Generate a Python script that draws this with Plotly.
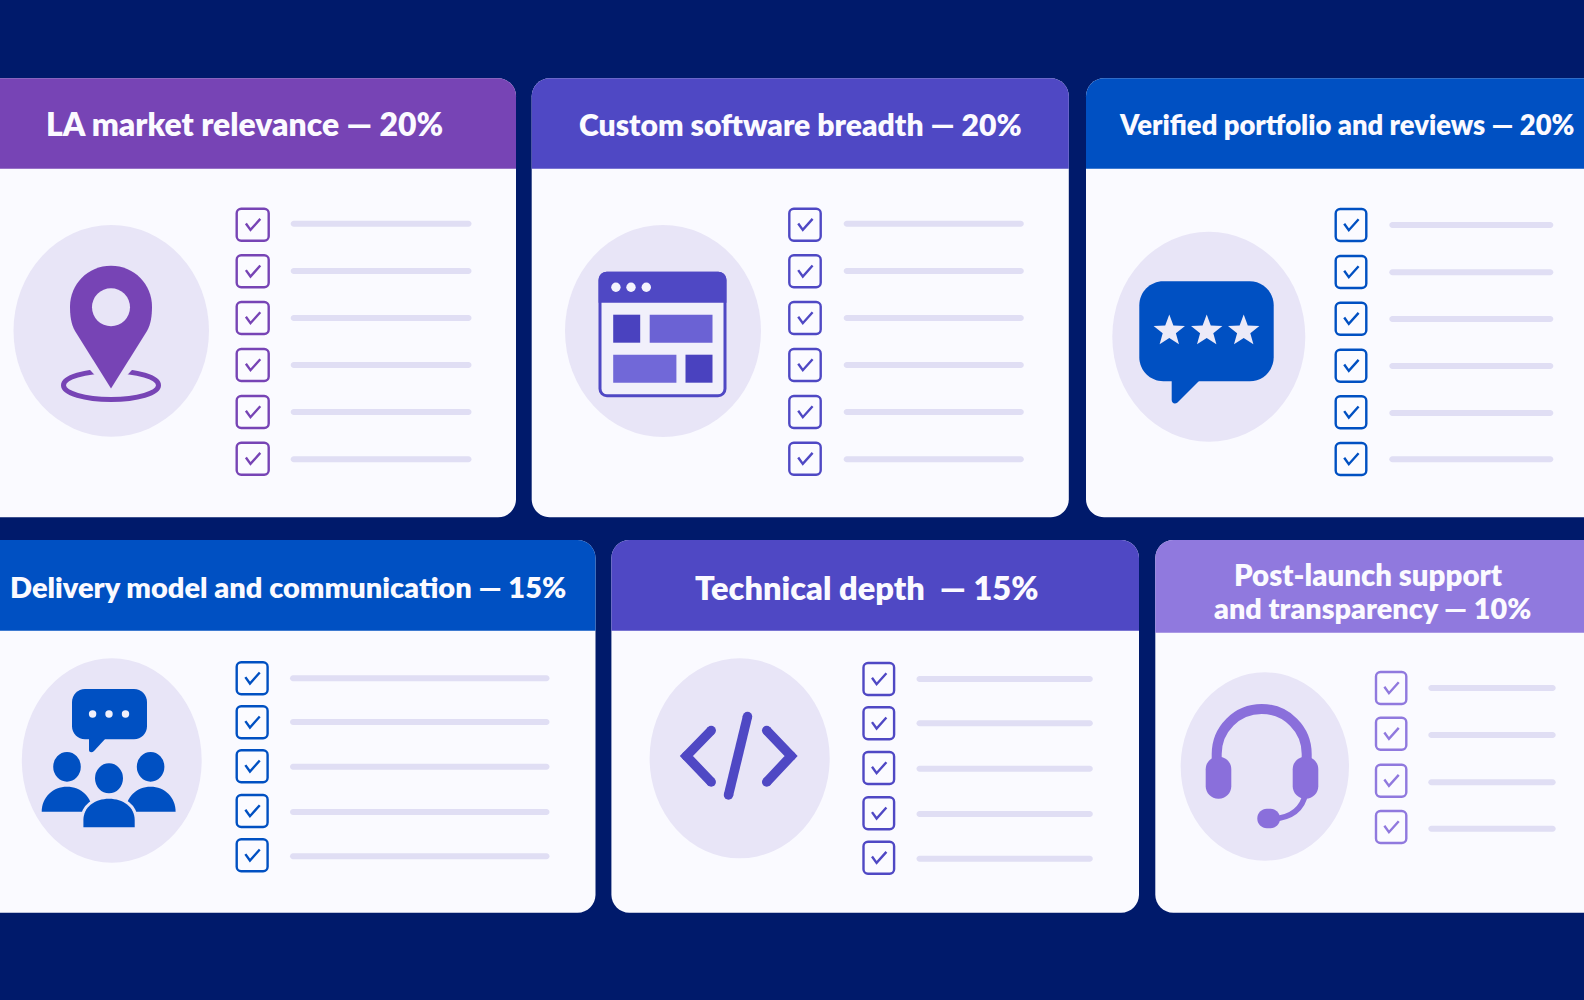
import math
import plotly.graph_objects as go

# ---- content ----
card_names = ["LA market relevance", "Custom software breadth", "Verified portfolio and reviews",
              "Delivery model and communication", "Technical depth\u00a0", "Post-launch support"]
card_weights = [20, 20, 20, 15, 15, 10]
card_items = [6, 6, 6, 5, 5, 4]
last_card_line2 = "and transparency"

# ---- styling and layout (pixels of the 1584x1000 page) ----
BG = "#001a6b"
CARD = "#fafaff"
DISC = "#e8e5f7"
BAR = "#e0def4"
C_PURPLE, C_INDIGO, C_BLUE, C_LILAC = "#7744b5", "#4f48c4", "#0050c2", "#9079de"
FONT = "Lato"

cards = [
    dict(x=(-40, 516), y=(78.3, 168.7, 517.3), col=C_PURPLE, disc=(13.5, 225, 209, 436.7),
         box=(236, 269.4), rows=[224.7, 271.3, 318, 365, 412, 458.7], bar=(290.7, 471.5), bars=[223.7, 271, 318, 365, 412, 459.3]),
    dict(x=(531.7, 1068.8), y=(78.3, 168.7, 517.3), col=C_INDIGO, disc=(565, 225, 761, 437),
         box=(788.6, 821.4), rows=[224.7, 271.3, 318, 365, 412, 458.7], bar=(843.7, 1023.8), bars=[223.7, 271, 318, 365, 412, 459.3]),
    dict(x=(1086, 1640), y=(78.3, 168.7, 517.3), col=C_BLUE, disc=(1112.3, 231.7, 1305.3, 441.7),
         box=(1335, 1367), rows=[225, 272, 318.7, 365.7, 412.3, 459], bar=(1389.3, 1553.3), bars=[225, 272.3, 319, 366, 413, 459.3]),
    dict(x=(-40, 595.5), y=(540, 630.7, 912.7), col=C_BLUE, disc=(21.8, 658.3, 201.7, 862.7),
         box=(236, 268.3), rows=[678.3, 722.3, 766.3, 811, 855.3], bar=(290, 549.5), bars=[678.3, 722, 766.7, 812, 856.3]),
    dict(x=(611.4, 1139), y=(540, 630.7, 912.7), col=C_INDIGO, disc=(649.6, 658.3, 829.7, 858.3),
         box=(862.8, 894.8), rows=[679, 723.3, 768, 813.3, 857.7], bar=(916.5, 1092.8), bars=[679, 723.3, 768.7, 814, 858.7]),
    dict(x=(1155.3, 1640), y=(540, 632.7, 912.7), col=C_LILAC, disc=(1180.7, 672.3, 1349, 860.7),
         box=(1375.3, 1407), rows=[688, 733.7, 780.7, 827], bar=(1428.3, 1555.7), bars=[688, 735, 782.3, 828.7]),
]
title_pos = [(244, 123.5, 31.9), (800.4, 124, 30.1), (1346.3, 124, 27.4), (288, 586, 29), (867, 587, 32.6)]

shapes = []


def add_path(d, fill=None, line=None, width=0):
    shapes.append(dict(type="path", path=d, xref="x", yref="y", layer="above",
                       fillcolor=fill or "rgba(0,0,0,0)",
                       line=dict(color=line or "rgba(0,0,0,0)", width=width)))


def ell(x0, y0, x1, y1, fill=None, line=None, width=0):
    shapes.append(dict(type="circle", x0=x0, y0=y0, x1=x1, y1=y1, xref="x", yref="y", layer="above",
                       fillcolor=fill or "rgba(0,0,0,0)",
                       line=dict(color=line or "rgba(0,0,0,0)", width=width)))


def rrect(x0, y0, x1, y1, r, bottom=True):
    k = r * 0.45
    d = f"M {x0 + r},{y0} L {x1 - r},{y0} C {x1 - k},{y0} {x1},{y0 + k} {x1},{y0 + r} "
    if bottom:
        d += (f"L {x1},{y1 - r} C {x1},{y1 - k} {x1 - k},{y1} {x1 - r},{y1} "
              f"L {x0 + r},{y1} C {x0 + k},{y1} {x0},{y1 - k} {x0},{y1 - r} ")
    else:
        d += f"L {x1},{y1} L {x0},{y1} "
    d += f"L {x0},{y0 + r} C {x0},{y0 + k} {x0 + k},{y0} {x0 + r},{y0} Z"
    return d


def poly(pts):
    return "M " + " L ".join(f"{x},{y}" for x, y in pts) + " Z"


def polyline(pts, col, w):
    add_path("M " + " L ".join(f"{x},{y}" for x, y in pts), line=col, width=w)
    for x, y in pts:
        ell(x - w / 2, y - w / 2, x + w / 2, y + w / 2, fill=col)


def star(cx, cy, R, col):
    pts = []
    for i in range(10):
        a = -math.pi / 2 + i * math.pi / 5
        r = R if i % 2 == 0 else R * 0.42
        pts.append((round(cx + r * math.cos(a), 2), round(cy + r * math.sin(a), 2)))
    add_path(poly(pts), fill=col)


# ---- cards ----
for c, n in zip(cards, card_items):
    x0, x1 = c["x"]
    yt, yh, yb = c["y"]
    add_path(rrect(x0, yt, x1, yb, 18), fill=CARD)
    add_path(rrect(x0, yt, x1, yh, 18, bottom=False), fill=c["col"])
    ell(*c["disc"], fill=DISC)
    bx0, bx1 = c["box"][0] + 0.7, c["box"][1] - 0.7
    for yc, yl in zip(c["rows"][:n], c["bars"][:n]):
        add_path(rrect(bx0, yc - 16, bx1, yc + 16, 4.5), fill="#fbfbff", line=c["col"], width=2.4)
        cx = (bx0 + bx1) / 2
        add_path(f"M {cx - 6.8},{yc - 1.2} L {cx - 2.2},{yc + 5.2} L {cx + 7.6},{yc - 5.8}", line=c["col"], width=2.4)
        add_path(rrect(c["bar"][0], yl - 3, c["bar"][1], yl + 3, 3), fill=BAR)

# ---- pin icon ----
ell(63.5, 371, 158.5, 399.5, line=C_PURPLE, width=5)
add_path(poly([(111, 393), (81, 360), (141, 360)]), fill=DISC)
add_path("M 111,388.5 L 75,331 C 71,324 70,315 70,306.7 C 70,284 88,265.7 111,265.7 "
         "C 134,265.7 152,284 152,306.7 C 152,315 151,324 147,331 Z", fill=C_PURPLE)
ell(92, 288.3, 130, 326.3, fill=DISC)

# ---- browser window icon ----
add_path(rrect(600, 273.2, 725, 395.8, 7), fill="#f1f0fb", line=C_INDIGO, width=3)
add_path(rrect(598.6, 271.7, 726.4, 302.7, 8, bottom=False), fill=C_INDIGO)
for dx in (615.9, 631, 646.3):
    ell(dx - 4.7, 282.6, dx + 4.7, 292, fill="#f4f3fd")
for x0, y0, x1, y1, col in [(613.2, 314.7, 640.2, 342.7, "#4a42bf"), (649.7, 314.7, 712.5, 342.7, "#6b62d4"),
                            (613.2, 354.7, 676.4, 382.7, "#7168d8"), (685.5, 354.7, 712.5, 382.7, "#4a42bf")]:
    add_path(poly([(x0, y0), (x1, y0), (x1, y1), (x0, y1)]), fill=col)

# ---- review bubble icon ----
add_path(rrect(1139.3, 281.3, 1273.7, 381.3, 24), fill=C_BLUE)
add_path("M 1171.7,380 L 1171.7,400 C 1171.7,403.5 1175,404.5 1177.5,402.5 L 1200,380 Z", fill=C_BLUE)
for sx in (1169.3, 1206.7, 1243.7):
    star(sx, 331, 16.5, "#eceaf8")

# ---- team icon ----
add_path(rrect(72, 689, 147, 739.3, 13), fill=C_BLUE)
add_path("M 89,738 L 89,750 C 89,752.5 92,753 94,751 L 106,738 Z", fill=C_BLUE)
for dx in (92.6, 109, 125.5):
    ell(dx - 3.7, 710.3, dx + 3.7, 717.7, fill="#f1f0fb")
ell(53.2, 752, 80.8, 781.7, fill=C_BLUE)
ell(136.8, 752, 164.4, 781.7, fill=C_BLUE)
ell(95, 763.3, 123, 793.3, fill=C_BLUE)
add_path("M 41.7,811.7 C 41.7,797 53,786.7 67,786.7 C 81,786.7 92.3,797 92.3,811.7 Z", fill=C_BLUE)
add_path("M 125.6,811.7 C 125.6,797 136.6,786.7 150.6,786.7 C 164.6,786.7 175.6,797 175.6,811.7 Z", fill=C_BLUE)
BODY = "M 83.4,827.3 L 83.4,820 C 83.4,807 95,798.7 109,798.7 C 123,798.7 134.7,807 134.7,820 L 134.7,827.3 Z"
add_path(BODY, fill=DISC, line=DISC, width=6)
add_path(BODY, fill=C_BLUE)

# ---- code icon ----
polyline([(711.2, 730.5), (686.4, 756), (711.2, 782)], C_INDIGO, 9.5)
polyline([(766.7, 730.5), (791.1, 756), (766.7, 782)], C_INDIGO, 9.5)
polyline([(747.5, 716.5), (728.5, 795)], C_INDIGO, 9.5)

# ---- headset icon ----
HS = "#8a6fdb"
add_path("M 1216.7,765 L 1216.7,754 C 1216.7,729.1 1236.8,709 1261.7,709 "
         "C 1286.6,709 1306.7,729.1 1306.7,754 L 1306.7,765", line=HS, width=10)
add_path(rrect(1205.7, 756.7, 1231.3, 798.7, 12.5), fill=HS)
add_path(rrect(1292.7, 756.7, 1318.3, 798.7, 12.5), fill=HS)
add_path("M 1306,792 C 1303,808 1292,818 1272,819", line=HS, width=5.5)
add_path(rrect(1257.3, 808.7, 1280, 828.3, 9.5), fill=HS)

# ---- titles ----
annotations = []


def label(x, y, text, size):
    annotations.append(dict(x=x, y=y, xref="x", yref="y", text=text, showarrow=False, xanchor="center",
                            yanchor="middle", font=dict(family=FONT, size=size, color="#fbfaff", weight=800)))


for (name, w, (x, y, s)) in zip(card_names[:5], card_weights[:5], title_pos):
    label(x, y, f"{name} — {w}%", s)
label(1368, 574.3, card_names[5], 29.4)
label(1372, 608, f"{last_card_line2} — {card_weights[5]}%", 28.8)

fig = go.Figure()
fig.update_layout(width=1584, height=1000, margin=dict(l=0, r=0, t=0, b=0, pad=0),
                  paper_bgcolor=BG, plot_bgcolor=BG, showlegend=False,
                  xaxis=dict(range=[0, 1584], visible=False, fixedrange=True),
                  yaxis=dict(range=[1000, 0], visible=False, fixedrange=True),
                  shapes=shapes, annotations=annotations)
fig.write_html("out.html", config=dict(displayModeBar=False),
               post_script="document.body.style.margin='0';document.body.style.background='" + BG + "';")
